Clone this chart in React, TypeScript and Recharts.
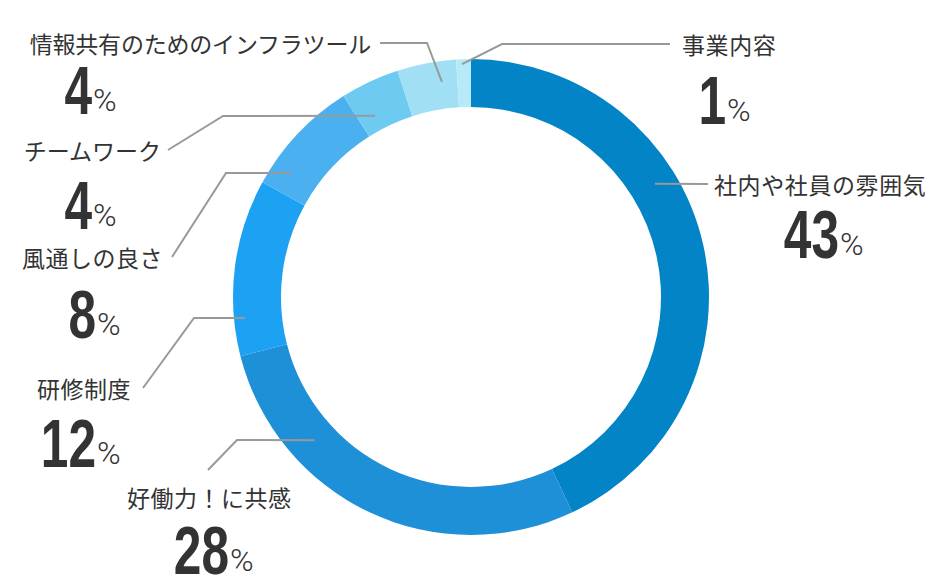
import React from "react";
import { PieChart, Pie, Cell } from "recharts";

const categories = [
  "社内や社員の雰囲気",
  "好働力！に共感",
  "研修制度",
  "風通しの良さ",
  "チームワーク",
  "情報共有のためのインフラツール",
  "事業内容",
];
const values = [43, 28, 12, 8, 4, 4, 1];
const colors = ["#0284C6", "#1E90D8", "#1DA1F2", "#4AB0F0", "#6DCBF2", "#A0DFF4", "#B6EAF8"];

// label layout: leader start (polar from pie centre), elbow, end, name position, number position
type Layout = {
  a: number; r: number;
  pts: [number, number][];
  nx: number; ny: number; nAnchor: "start" | "end" | "middle";
  ls: number;
  px: number; py: number;
};
const LABEL_LAYOUT: Layout[] = [
  { a: 31.6, r: 216, pts: [[708, 184]], nx: 714, ny: 184, nAnchor: "start", ls: 0.6, px: 839, py: 258 },
  { a: 222.5, r: 212, pts: [[237, 440], [208, 470]], nx: 127, ny: 497, nAnchor: "start", ls: 0.5, px: 229, py: 574 },
  { a: 185.3, r: 227, pts: [[194, 318], [143, 388]], nx: 131, ny: 388, nAnchor: "end", ls: 0.5, px: 96, py: 467 },
  { a: 145.3, r: 218, pts: [[226, 173], [172, 257]], nx: 163, ny: 257, nAnchor: "end", ls: 0.5, px: 96, py: 338 },
  { a: 117.9, r: 205, pts: [[223, 116], [168, 150]], nx: 161, ny: 150, nAnchor: "end", ls: 0, px: 92, py: 229 },
  { a: 97.7, r: 217, pts: [[427, 43], [380, 43]], nx: 371, ny: 43, nAnchor: "end", ls: -0.2, px: 92, py: 114 },
  { a: 92.2, r: 233, pts: [[502, 44], [670, 44]], nx: 682, ny: 44, nAnchor: "start", ls: 0.6, px: 726, py: 124 },
];

const data = categories.map((name, i) => ({ name, value: values[i] }));

const renderLabel = (props: any) => {
  const { cx, cy, index } = props;
  const L = LABEL_LAYOUT[index];
  const rad = (L.a * Math.PI) / 180;
  const sx = cx + L.r * Math.cos(rad);
  const sy = cy - L.r * Math.sin(rad);
  const pts = [[sx, sy], ...L.pts].map((p) => p.join(",")).join(" ");
  return (
    <g key={`lbl-${index}`}>
      <polyline points={pts} fill="none" stroke="#999999" strokeWidth={2} />
      <text
        x={L.nx}
        y={L.ny}
        textAnchor={L.nAnchor}
        dominantBaseline="central"
        fontFamily="'Noto Sans CJK JP', sans-serif"
        fontSize={23}
        letterSpacing={L.ls}
        fill="#333333"
      >
        {categories[index]}
      </text>
      <text
        x={0}
        y={0}
        transform={`translate(${L.px},${L.py}) scale(0.73,1)`}
        textAnchor="end"
        fontFamily="'Liberation Sans', Arial, sans-serif"
        fontWeight={700}
        fontSize={68}
        fill="#333333"
      >
        {values[index]}
      </text>
      <text
        x={L.px + 1}
        y={L.py - 3}
        textAnchor="start"
        fontFamily="Roboto, sans-serif"
        fontWeight={300}
        fontSize={32}
        fill="#333333"
      >
        %
      </text>
    </g>
  );
};

export default function App() {
  return (
    <div style={{ position: "absolute", left: 0, top: 0, width: 940, height: 580, background: "#fff" }}>
      <PieChart width={940} height={580} margin={{ top: 0, right: 0, bottom: 0, left: 0 }}>
        <Pie
          data={data}
          dataKey="value"
          nameKey="name"
          cx={471}
          cy={297}
          innerRadius={190}
          outerRadius={238}
          startAngle={90}
          endAngle={-270}
          stroke="none"
          isAnimationActive={false}
          label={renderLabel}
          labelLine={false}
        >
          {data.map((d, i) => (
            <Cell key={d.name} fill={colors[i]} />
          ))}
        </Pie>
      </PieChart>
    </div>
  );
}
